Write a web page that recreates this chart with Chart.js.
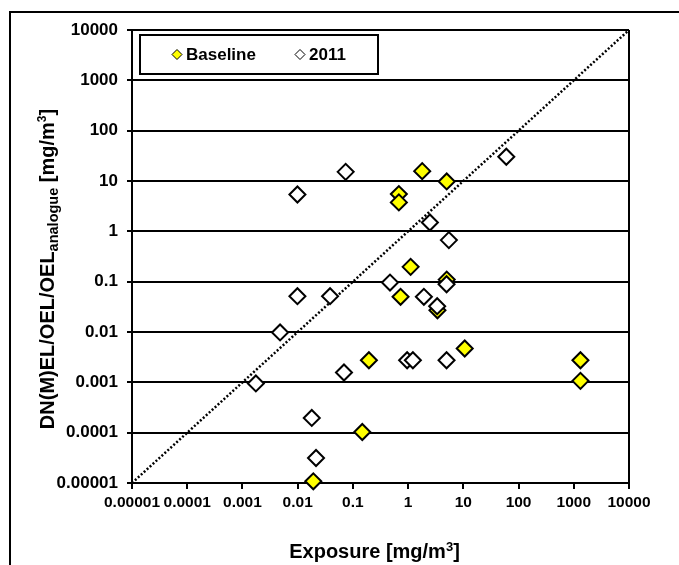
<!DOCTYPE html>
<html>
<head>
<meta charset="utf-8">
<script src="https://cdn.jsdelivr.net/npm/chart.js@4"></script>
<style>
html, body { margin: 0; padding: 0; background: #fff; }
canvas { display: block; }
</style>
</head>
<body>
<canvas id="miGrafico" width="679" height="565"></canvas>
<script>
// Datos (escala log-log)
var baseline_x = [1.8, 5.0, 0.68, 0.68, 1.11, 5.0, 0.73, 3.4, 10.6, 0.195, 1320, 1320, 0.148, 0.0192];
var baseline_y = [15.7, 9.8, 5.5, 3.76, 0.197, 0.11, 0.05, 0.027, 0.0047, 0.00275, 0.00275, 0.00107, 0.000103, 0.0000108];
var datos_2011_x = [0.074, 0.0099, 60, 2.48, 5.47, 0.47, 4.97, 0.0099, 0.0386, 1.93, 3.36, 0.0048, 0.00175, 0.069, 0.96, 1.22, 4.97, 0.018, 0.0215];
var datos_2011_y = [15.2, 5.4, 30.3, 1.5, 0.67, 0.096, 0.089, 0.0515, 0.0515, 0.05, 0.0326, 0.0098, 0.00095, 0.00157, 0.00275, 0.00275, 0.00275, 0.000196, 0.0000314];
var diagonal = [0.00001, 10000];
var valores_ticks = [0.00001, 0.0001, 0.001, 0.01, 0.1, 1, 10, 100, 1000, 10000];
var etiquetas_ticks = ["0.00001", "0.0001", "0.001", "0.01", "0.1", "1", "10", "100", "1000", "10000"];
var nombres_series = ["Baseline", "2011"];

var fuente = '"Liberation Sans", Arial, sans-serif';

function a_puntos(xs, ys) {
    return xs.map((x, i) => ({ x: x, y: ys[i] }));
}

// Solo las décadas como ticks
function fijar_ticks(escala) {
    escala.ticks = valores_ticks.map(v => ({ value: v }));
}

function etiqueta_tick(valor) {
    var i = valores_ticks.findIndex(v => Math.abs(Math.log10(v) - Math.log10(valor)) < 1e-6);
    return i >= 0 ? etiquetas_ticks[i] : '';
}

function rombo(ctx, x, y, r, relleno) {
    ctx.beginPath();
    ctx.moveTo(x - r, y);
    ctx.lineTo(x, y - r);
    ctx.lineTo(x + r, y);
    ctx.lineTo(x, y + r);
    ctx.closePath();
    ctx.fillStyle = relleno;
    ctx.fill();
    ctx.lineWidth = 1;
    ctx.strokeStyle = '#000';
    ctx.stroke();
}

// Dibuja trozos de texto seguidos (para sub/superíndices)
function texto_partes(ctx, partes, x0) {
    var x = x0;
    partes.forEach(p => {
        ctx.font = 'bold ' + p.tam + 'px ' + fuente;
        ctx.fillText(p.t, x, p.dy || 0);
        x += ctx.measureText(p.t).width;
    });
}

function ancho_partes(ctx, partes) {
    var w = 0;
    partes.forEach(p => {
        ctx.font = 'bold ' + p.tam + 'px ' + fuente;
        w += ctx.measureText(p.t).width;
    });
    return w;
}

var plugin_marco = {
    id: 'marco',
    beforeDraw(chart) {
        var ctx = chart.ctx;
        ctx.save();
        ctx.fillStyle = '#fff';
        ctx.fillRect(0, 0, chart.width, chart.height);
        ctx.strokeStyle = '#000';
        ctx.lineWidth = 2;
        ctx.beginPath();
        ctx.moveTo(10, chart.height);
        ctx.lineTo(10, 12);
        ctx.lineTo(chart.width, 12);
        ctx.stroke();
        ctx.restore();
    },
    beforeDatasetsDraw(chart) {
        var ctx = chart.ctx;
        var area = chart.chartArea;
        ctx.save();
        ctx.strokeStyle = '#000';
        ctx.lineWidth = 2;
        ctx.beginPath();
        ctx.moveTo(area.right, area.top);
        ctx.lineTo(area.right, area.bottom);
        ctx.stroke();
        ctx.restore();
    },
    afterDatasetsDraw(chart) {
        // Leyenda dentro del área del gráfico
        var ctx = chart.ctx;
        var area = chart.chartArea;
        var lx = area.left + 8, ly = area.top + 5, lw = 238, lh = 39;
        ctx.save();
        ctx.fillStyle = '#fff';
        ctx.fillRect(lx, ly, lw, lh);
        ctx.strokeStyle = '#000';
        ctx.lineWidth = 2;
        ctx.strokeRect(lx, ly, lw, lh);
        var cy = ly + lh / 2;
        rombo(ctx, lx + 37, cy, 5, '#ffff00');
        rombo(ctx, lx + 160, cy, 5, '#ffffff');
        ctx.fillStyle = '#000';
        ctx.font = 'bold 17px ' + fuente;
        ctx.textBaseline = 'middle';
        ctx.fillText(nombres_series[0], lx + 46, cy + 1);
        ctx.fillText(nombres_series[1], lx + 169, cy + 1);
        ctx.restore();
    },
    afterDraw(chart) {
        var ctx = chart.ctx;
        var area = chart.chartArea;
        ctx.save();
        ctx.fillStyle = '#000';
        ctx.textBaseline = 'alphabetic';
        // Título eje X
        var partes_x = [
            { t: 'Exposure [mg/m', tam: 20 },
            { t: '3', tam: 13, dy: -7 },
            { t: ']', tam: 20 }
        ];
        var wx = ancho_partes(ctx, partes_x);
        ctx.save();
        ctx.translate((area.left + area.right) / 2 - 6, 558);
        texto_partes(ctx, partes_x, -wx / 2);
        ctx.restore();
        // Título eje Y (rotado)
        var partes_y = [
            { t: 'DN(M)EL/OEL/OEL', tam: 20 },
            { t: 'analogue', tam: 14.5, dy: 4 },
            { t: ' [mg/m', tam: 20 },
            { t: '3', tam: 12, dy: -8 },
            { t: ']', tam: 20 }
        ];
        var wy = ancho_partes(ctx, partes_y);
        ctx.save();
        ctx.translate(54, 269);
        ctx.rotate(-Math.PI / 2);
        texto_partes(ctx, partes_y, -wy / 2);
        ctx.restore();
        ctx.restore();
    }
};

function crear_grafico() {
    var contexto = document.getElementById('miGrafico').getContext('2d');
    var miGrafico = new Chart(contexto, {
        type: 'scatter',
        data: {
            datasets: [
                {
                    label: nombres_series[1],
                    data: a_puntos(datos_2011_x, datos_2011_y),
                    pointStyle: 'rectRot',
                    pointRadius: 8,
                    pointHoverRadius: 8,
                    backgroundColor: '#ffffff',
                    borderColor: '#000000',
                    borderWidth: 2,
                    clip: false
                },
                {
                    label: nombres_series[0],
                    data: a_puntos(baseline_x, baseline_y),
                    pointStyle: 'rectRot',
                    pointRadius: 8,
                    pointHoverRadius: 8,
                    backgroundColor: '#ffff00',
                    borderColor: '#000000',
                    borderWidth: 2,
                    clip: false
                },
                {
                    type: 'line',
                    label: 'y = x',
                    data: a_puntos(diagonal, diagonal),
                    showLine: true,
                    borderColor: '#000000',
                    borderWidth: 2.5,
                    borderDash: [2, 2],
                    pointRadius: 0,
                    fill: false
                }
            ]
        },
        options: {
            responsive: false,
            animation: false,
            devicePixelRatio: 1,
            layout: { padding: { top: 30, right: 50, left: 0, bottom: 0 } },
            plugins: {
                legend: { display: false },
                tooltip: { enabled: false }
            },
            scales: {
                x: {
                    type: 'logarithmic',
                    min: 0.00001,
                    max: 10000,
                    afterBuildTicks: fijar_ticks,
                    afterFit: function(escala) { escala.height = 82; },
                    ticks: {
                        callback: etiqueta_tick,
                        autoSkip: false,
                        maxRotation: 0,
                        minRotation: 0,
                        padding: 4,
                        color: '#000',
                        font: { family: fuente, size: 15.5, weight: 'bold' }
                    },
                    grid: { drawOnChartArea: false, drawTicks: true, tickLength: 6, color: '#000', lineWidth: 2 },
                    border: { display: true, color: '#000', width: 2 }
                },
                y: {
                    type: 'logarithmic',
                    min: 0.00001,
                    max: 10000,
                    afterBuildTicks: fijar_ticks,
                    afterFit: function(escala) { escala.width = 132; },
                    ticks: {
                        callback: etiqueta_tick,
                        autoSkip: false,
                        padding: 9,
                        color: '#000',
                        font: { family: fuente, size: 17, weight: 'bold' }
                    },
                    grid: { drawTicks: true, tickLength: 5, color: '#000', lineWidth: 2 },
                    border: { display: true, color: '#000', width: 2 }
                }
            }
        },
        plugins: [plugin_marco]
    });
    return miGrafico;
}

crear_grafico();
</script>
</body>
</html>
